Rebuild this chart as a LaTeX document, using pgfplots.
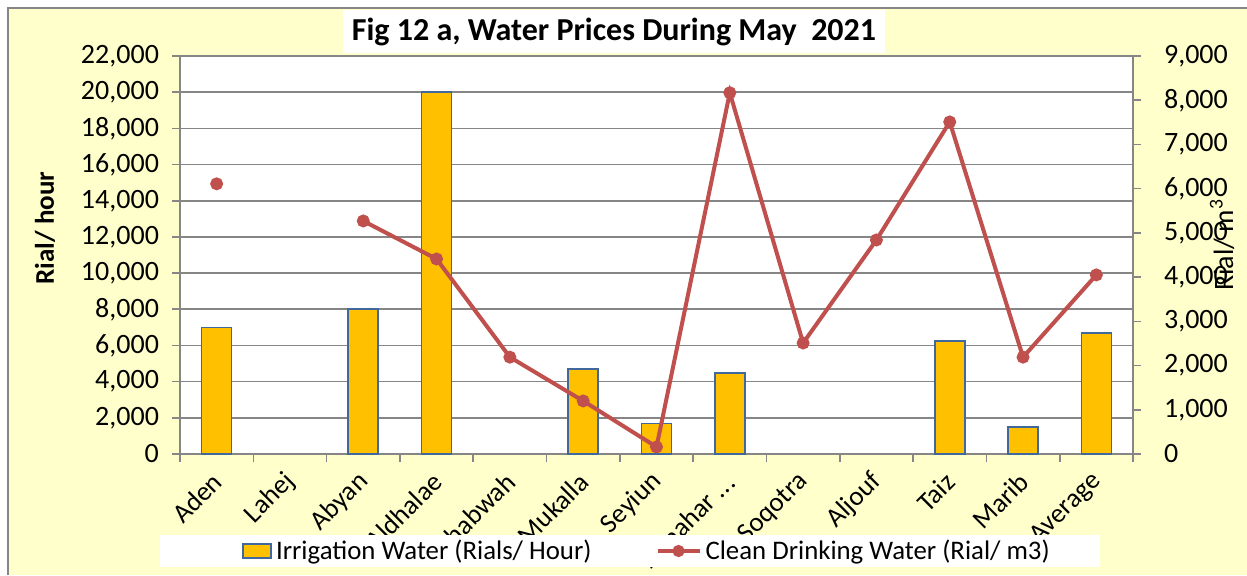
\documentclass[border=0pt]{standalone}
\usepackage{pgfplots}
\pgfplotsset{compat=1.18}
\usepackage{fontspec}
\setmainfont{Carlito}
\definecolor{bg}{HTML}{FFFFCC}
\definecolor{barfill}{HTML}{FFC000}
\definecolor{barline}{HTML}{41689C}
\definecolor{linecol}{HTML}{C0504D}
\definecolor{axgray}{HTML}{868686}
\newcommand{\tfont}{\fontsize{14}{16}\selectfont}
\newcommand{\xfont}{\fontsize{13.5}{15}\selectfont}
\newcommand{\lfont}{\fontsize{13.4}{15}\selectfont}
\newcommand{\dotsx}{.\kern0.3pt.\kern0.3pt.}
\begin{document}
\begin{tikzpicture}[x=1pt,y=1pt]
\path[use as bounding box] (0,0) rectangle (623.5,287.5);
\fill[white] (0,0) rectangle (623.5,287.5);
\fill[bg] (4,0) rectangle (623.5,283.5);
\draw[axgray, line width=0.9pt] (4,0) -- (4,283.5) -- (623.5,283.5);
\begin{axis}[
  at={(90pt,60.5pt)}, anchor=south west,
  scale only axis, width=476.5pt, height=199pt,
  xmin=-0.5, xmax=12.5, ymin=0, ymax=22000,
  axis background/.style={fill=white},
  ytick={0,2000,...,22000},
  xtick={0,...,12},
  xticklabels={Aden,Lahej,Abyan,Aldhalae,Shabwah,Mukalla,Seyiun,{Almahar \dotsx},Soqotra,Aljouf,Taiz,Marib,Average},
  minor xtick={-0.5,0.5,...,12.5},
  xtick pos=bottom, ytick pos=left,
  tick align=outside,
  major x tick style={draw=none},
  minor x tick style={axgray, line width=0.8pt},
  minor tick length=4pt,
  major tick length=4pt,
  y tick style={axgray, line width=0.8pt},
  axis line style={axgray, line width=0.8pt},
  ymajorgrids, major grid style={axgray, line width=0.8pt},
  scaled y ticks=false,
  /pgf/number format/.cd, 1000 sep={,}, assume math mode=true, /pgfplots/.cd,
  yticklabel style={font=\tfont, xshift=-3pt},
  xticklabel style={font=\xfont, rotate=45, anchor=east, xshift=-1.8pt, yshift=-5.8pt},
  ybar, bar width=15pt,
]
\addplot[fill=barfill, draw=barline, line width=0.8pt] coordinates {
 (0,7000) (2,8000) (3,20000) (5,4700) (6,1680) (7,4480) (10,6250) (11,1500) (12,6700)};
\end{axis}
\fill[white] (80,4) rectangle (550,20);
\begin{axis}[
  at={(90pt,60.5pt)}, anchor=south west,
  scale only axis, width=476.5pt, height=199pt,
  xmin=-0.5, xmax=12.5, ymin=0, ymax=9000,
  hide x axis,
  ytick={0,1000,...,9000},
  ytick pos=right,
  tick align=outside,
  major tick length=4pt,
  y tick style={axgray, line width=0.8pt},
  axis line style={axgray, line width=0.8pt},
  scaled y ticks=false,
  /pgf/number format/.cd, 1000 sep={,}, assume math mode=true, /pgfplots/.cd,
  yticklabel style={font=\tfont, xshift=8pt},
  unbounded coords=jump,
  legend columns=2,
  legend style={at={(0.0651,-0.2437)}, anchor=west, draw=none, fill=none,
    inner xsep=0pt, inner ysep=0pt, font=\lfont,
    /tikz/every even column/.append style={column sep=30pt}},
]
\addlegendimage{legend image code/.code={\draw[fill=barfill,draw=barline,line width=0.8pt] (0pt,-3.5pt) rectangle (14pt,3.5pt);}}
\addlegendentry{Irrigation Water (Rials/ Hour)}
\addplot[linecol, line width=2pt, mark=*, mark size=2.2pt,
  legend image code/.code={\draw[linecol,line width=2pt] (0pt,0pt) -- (21pt,0pt); \fill[linecol] (10.5pt,0pt) circle (2pt);}]
 coordinates {
 (0,6110) (1,nan) (2,5270) (3,4410) (4,2190) (5,1200) (6,160) (7,8170) (8,2510) (9,4840) (10,7510) (11,2190) (12,4050)};
\addlegendentry{Clean Drinking Water (Rial/ m3)}
\end{axis}
\fill[white] (171.5,261) rectangle (442.5,282.5);
\node[font=\fontsize{16}{18}\selectfont\bfseries] at (307,271.5) {Fig 12 a, Water Prices During May\ \ 2021};
\node[rotate=90, font=\fontsize{13.5}{15}\selectfont\bfseries] at (22.5,173.5) {Rial/ hour};
\node[rotate=90, font=\fontsize{14}{15}\selectfont] at (611,165) {Rial/ m\textsuperscript{3}};
\end{tikzpicture}
\end{document}
